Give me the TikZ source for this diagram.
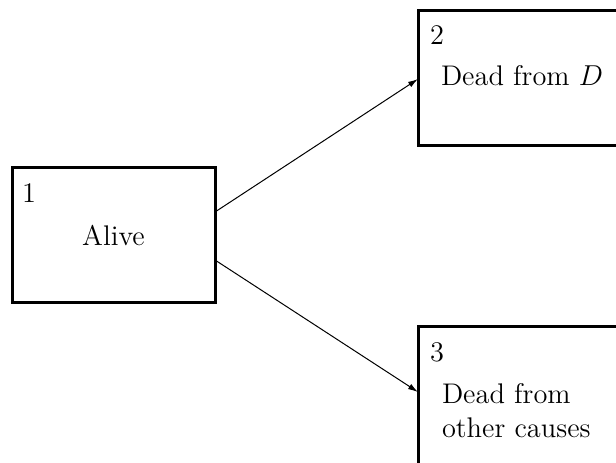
\documentclass[tikz,border=0pt]{standalone}
\usetikzlibrary{arrows.meta}
\begin{document}
\begin{tikzpicture}[x=0.5pt, y=-0.5pt,
  font=\fontsize{14.2}{17}\selectfont,
  statebox/.style={draw, line width=1.5pt, rectangle, outer sep=0pt, inner sep=0pt,
    minimum width=101.5pt, minimum height=67.5pt},
  txt/.style={inner sep=0pt, outer sep=0pt},
  trans/.style={line width=0.5pt, -{Latex[length=5pt,width=3pt]}}]
\useasboundingbox (0,0) rectangle (616,462);
\clip (0,0) rectangle (616,462);
% boxes
\node[statebox] (b1) at (113.5,235) {};
\node[statebox] (b2) at (519.5,77.5) {};
\node[statebox, minimum height=72pt] (b3) at (519.5,398.5) {};
% labels
\node[txt, anchor=base west] (n1) at ([shift={(10,34.5)}]b1.north west) {1};
\node[txt, anchor=base] (t1) at ([shift={(0,10)}]b1.center) {Alive};
\node[txt, anchor=base west] (n2) at ([shift={(12,34.5)}]b2.north west) {2};
\node[txt, anchor=base west] (t2) at ([shift={(23,75)}]b2.north west) {Dead from $D$};
\node[txt, anchor=base west] (n3) at ([shift={(12,34.5)}]b3.north west) {3};
\node[txt, anchor=base west, align=left] (t3) at ([shift={(24,110.5)}]b3.north west) {Dead from\\other causes};
% transitions
\draw[trans] ([shift={(0,-23)}]b1.east) -- ([shift={(0,1.5)}]b2.west);
\draw[trans] ([shift={(0,25)}]b1.east) -- ([shift={(0,-6.5)}]b3.west);
\end{tikzpicture}
\end{document}
